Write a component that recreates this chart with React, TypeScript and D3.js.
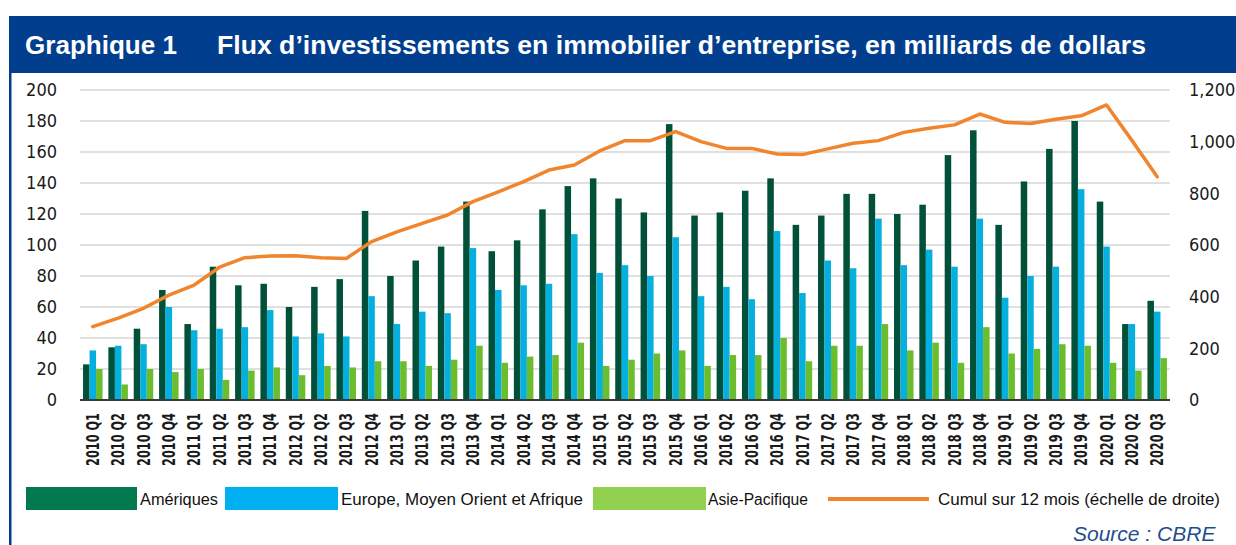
import React from "react";
import * as d3 from "d3";

const quarters = [
  "2010 Q1", "2010 Q2", "2010 Q3", "2010 Q4",
  "2011 Q1", "2011 Q2", "2011 Q3", "2011 Q4",
  "2012 Q1", "2012 Q2", "2012 Q3", "2012 Q4",
  "2013 Q1", "2013 Q2", "2013 Q3", "2013 Q4",
  "2014 Q1", "2014 Q2", "2014 Q3", "2014 Q4",
  "2015 Q1", "2015 Q2", "2015 Q3", "2015 Q4",
  "2016 Q1", "2016 Q2", "2016 Q3", "2016 Q4",
  "2017 Q1", "2017 Q2", "2017 Q3", "2017 Q4",
  "2018 Q1", "2018 Q2", "2018 Q3", "2018 Q4",
  "2019 Q1", "2019 Q2", "2019 Q3", "2019 Q4",
  "2020 Q1", "2020 Q2", "2020 Q3",
];

const ameriques = [23, 34, 46, 71, 49, 86, 74, 75, 60, 73, 78, 122, 80, 90, 99, 128, 96, 103, 123, 138, 143, 130, 121, 178, 119, 121, 135, 143, 113, 119, 133, 133, 120, 126, 158, 174, 113, 141, 162, 180, 128, 49, 64];
const emea = [32, 35, 36, 60, 45, 46, 47, 58, 41, 43, 41, 67, 49, 57, 56, 98, 71, 74, 75, 107, 82, 87, 80, 105, 67, 73, 65, 109, 69, 90, 85, 117, 87, 97, 86, 117, 66, 80, 86, 136, 99, 49, 57];
const apac = [20, 10, 20, 18, 20, 13, 19, 21, 16, 22, 21, 25, 25, 22, 26, 35, 24, 28, 29, 37, 22, 26, 30, 32, 22, 29, 29, 40, 25, 35, 35, 49, 32, 37, 24, 47, 30, 33, 36, 35, 24, 19, 27];
const cumul = [284, 317, 355, 406, 445, 514, 551, 557, 558, 551, 548, 613, 651, 684, 716, 768, 806, 845, 890, 910, 964, 1004, 1004, 1039, 1000, 974, 974, 952, 950, 972, 994, 1004, 1036, 1052, 1065, 1107, 1075, 1070, 1087, 1100, 1142, 1005, 864];

const leftTicks = [0, 20, 40, 60, 80, 100, 120, 140, 160, 180, 200];
const rightTicks = [0, 200, 400, 600, 800, 1000, 1200];

const seriesNames = ["Amériques", "Europe, Moyen Orient et Afrique", "Asie-Pacifique"];
const lineName = "Cumul sur 12 mois (échelle de droite)";
const titleLeft = "Graphique 1";
const titleMain = "Flux d’investissements en immobilier d’entreprise, en milliards de dollars";
const sourceText = "Source : CBRE";

const W = 1236;
const H = 545;
const plotLeft = 80;
const plotRight = 1170;
const plotTop = 90;
const plotBottom = 400;

const barColors = ["#00503a", "#05b0df", "#6cbd2e"];
const legendColors = ["#007a4e", "#00b0f0", "#92d050"];
const lineColor = "#f0852d";
const blue = "#023e8e";
const axisFont = "'Liberation Sans Narrow', 'DejaVu Sans Condensed', 'Liberation Sans', sans-serif";

export default function App() {
  const x = d3.scaleBand<string>().domain(quarters).range([plotLeft, plotRight]).paddingInner(0.23).paddingOuter(0.12);
  const sub = d3.scaleBand<number>().domain([0, 1, 2]).range([0, x.bandwidth()]);
  const yL = d3.scaleLinear().domain([0, 200]).range([plotBottom, plotTop]);
  const yR = d3.scaleLinear().domain([0, 1200]).range([plotBottom, plotTop]);
  const series = [ameriques, emea, apac];
  const fmt = d3.format(",");

  const line = d3
    .line<number>()
    .x((_, i) => (x(quarters[i]) as number) + x.bandwidth() / 2)
    .y((d) => yR(d));

  const legendItems = [
    { rx: 26, rw: 111, tx: 140, tl: 78, text: seriesNames[0], color: legendColors[0] },
    { rx: 225, rw: 113, tx: 341, tl: 242, text: seriesNames[1], color: legendColors[1] },
    { rx: 593, rw: 113, tx: 708, tl: 100, text: seriesNames[2], color: legendColors[2] },
  ];

  return (
    <svg width={W} height={H} style={{ position: "absolute", left: 0, top: 0, background: "#fff" }}>
      {/* header */}
      <rect x={9} y={16} width={W - 9} height={57} fill={blue} />
      <rect x={9} y={16} width={2.5} height={H - 16} fill={blue} />
      <text x={25} y={54} fill="#fff" fontFamily="'Liberation Sans', Arial, sans-serif" fontWeight="bold" fontSize={25} textLength={152} lengthAdjust="spacingAndGlyphs">
        {titleLeft}
      </text>
      <text x={217} y={54} fill="#fff" fontFamily="'Liberation Sans', Arial, sans-serif" fontWeight="bold" fontSize={25} textLength={929} lengthAdjust="spacingAndGlyphs">
        {titleMain}
      </text>

      {/* grid */}
      {leftTicks.filter((t) => t > 0).map((t) => (
        <line key={"g" + t} x1={plotLeft} x2={plotRight} y1={yL(t)} y2={yL(t)} stroke="#d6d6d6" strokeWidth={1.5} />
      ))}

      {/* left ticks */}
      {leftTicks.map((t) => (
        <text key={"l" + t} x={57} y={yL(t)} dy="0.36em" textAnchor="end" fontFamily={axisFont} fontSize={18} fill="#1a1a1a">
          {t}
        </text>
      ))}
      {/* right ticks */}
      {rightTicks.map((t) => (
        <text key={"r" + t} x={1189} y={yR(t)} dy="0.36em" textAnchor="start" fontFamily={axisFont} fontSize={18} fill="#1a1a1a">
          {fmt(t)}
        </text>
      ))}

      {/* bars */}
      {quarters.map((q, i) => (
        <g key={q} transform={`translate(${x(q)},0)`}>
          {series.map((s, k) => (
            <rect key={k} x={sub(k)} y={yL(s[i])} width={sub.bandwidth()} height={plotBottom - yL(s[i])} fill={barColors[k]} />
          ))}
        </g>
      ))}

      {/* baseline */}
      <line x1={plotLeft} x2={plotRight} y1={plotBottom} y2={plotBottom} stroke="#3a3a3a" strokeWidth={2} />

      {/* cumulative line */}
      <path d={line(cumul) || ""} fill="none" stroke={lineColor} strokeWidth={3.5} strokeLinejoin="round" strokeLinecap="round" />

      {/* x labels */}
      {quarters.map((q) => {
        const cx = (x(q) as number) + x.bandwidth() / 2;
        return (
          <text
            key={"x" + q}
            transform={`translate(${cx},413) rotate(-90)`}
            textAnchor="end"
            dy="0.36em"
            fontFamily={axisFont}
            fontWeight="bold"
            fontSize={17}
            fill="#1a1a1a"
            textLength={53}
            lengthAdjust="spacingAndGlyphs"
          >
            {q}
          </text>
        );
      })}

      {/* legend */}
      {legendItems.map((it) => (
        <g key={it.text}>
          <rect x={it.rx} y={487} width={it.rw} height={23} fill={it.color} />
          <text x={it.tx} y={505} fontFamily="'Liberation Sans', Arial, sans-serif" fontSize={16} fill="#111" textLength={it.tl} lengthAdjust="spacingAndGlyphs">
            {it.text}
          </text>
        </g>
      ))}
      <line x1={828} x2={929} y1={499} y2={499} stroke={lineColor} strokeWidth={4} />
      <text x={938} y={505} fontFamily="'Liberation Sans', Arial, sans-serif" fontSize={16} fill="#111" textLength={282} lengthAdjust="spacingAndGlyphs">
        {lineName}
      </text>

      {/* source */}
      <text x={1073} y={541} fontFamily="'Liberation Sans', Arial, sans-serif" fontStyle="italic" fontSize={21} fill="#1f4e8c">
        {sourceText}
      </text>
    </svg>
  );
}
